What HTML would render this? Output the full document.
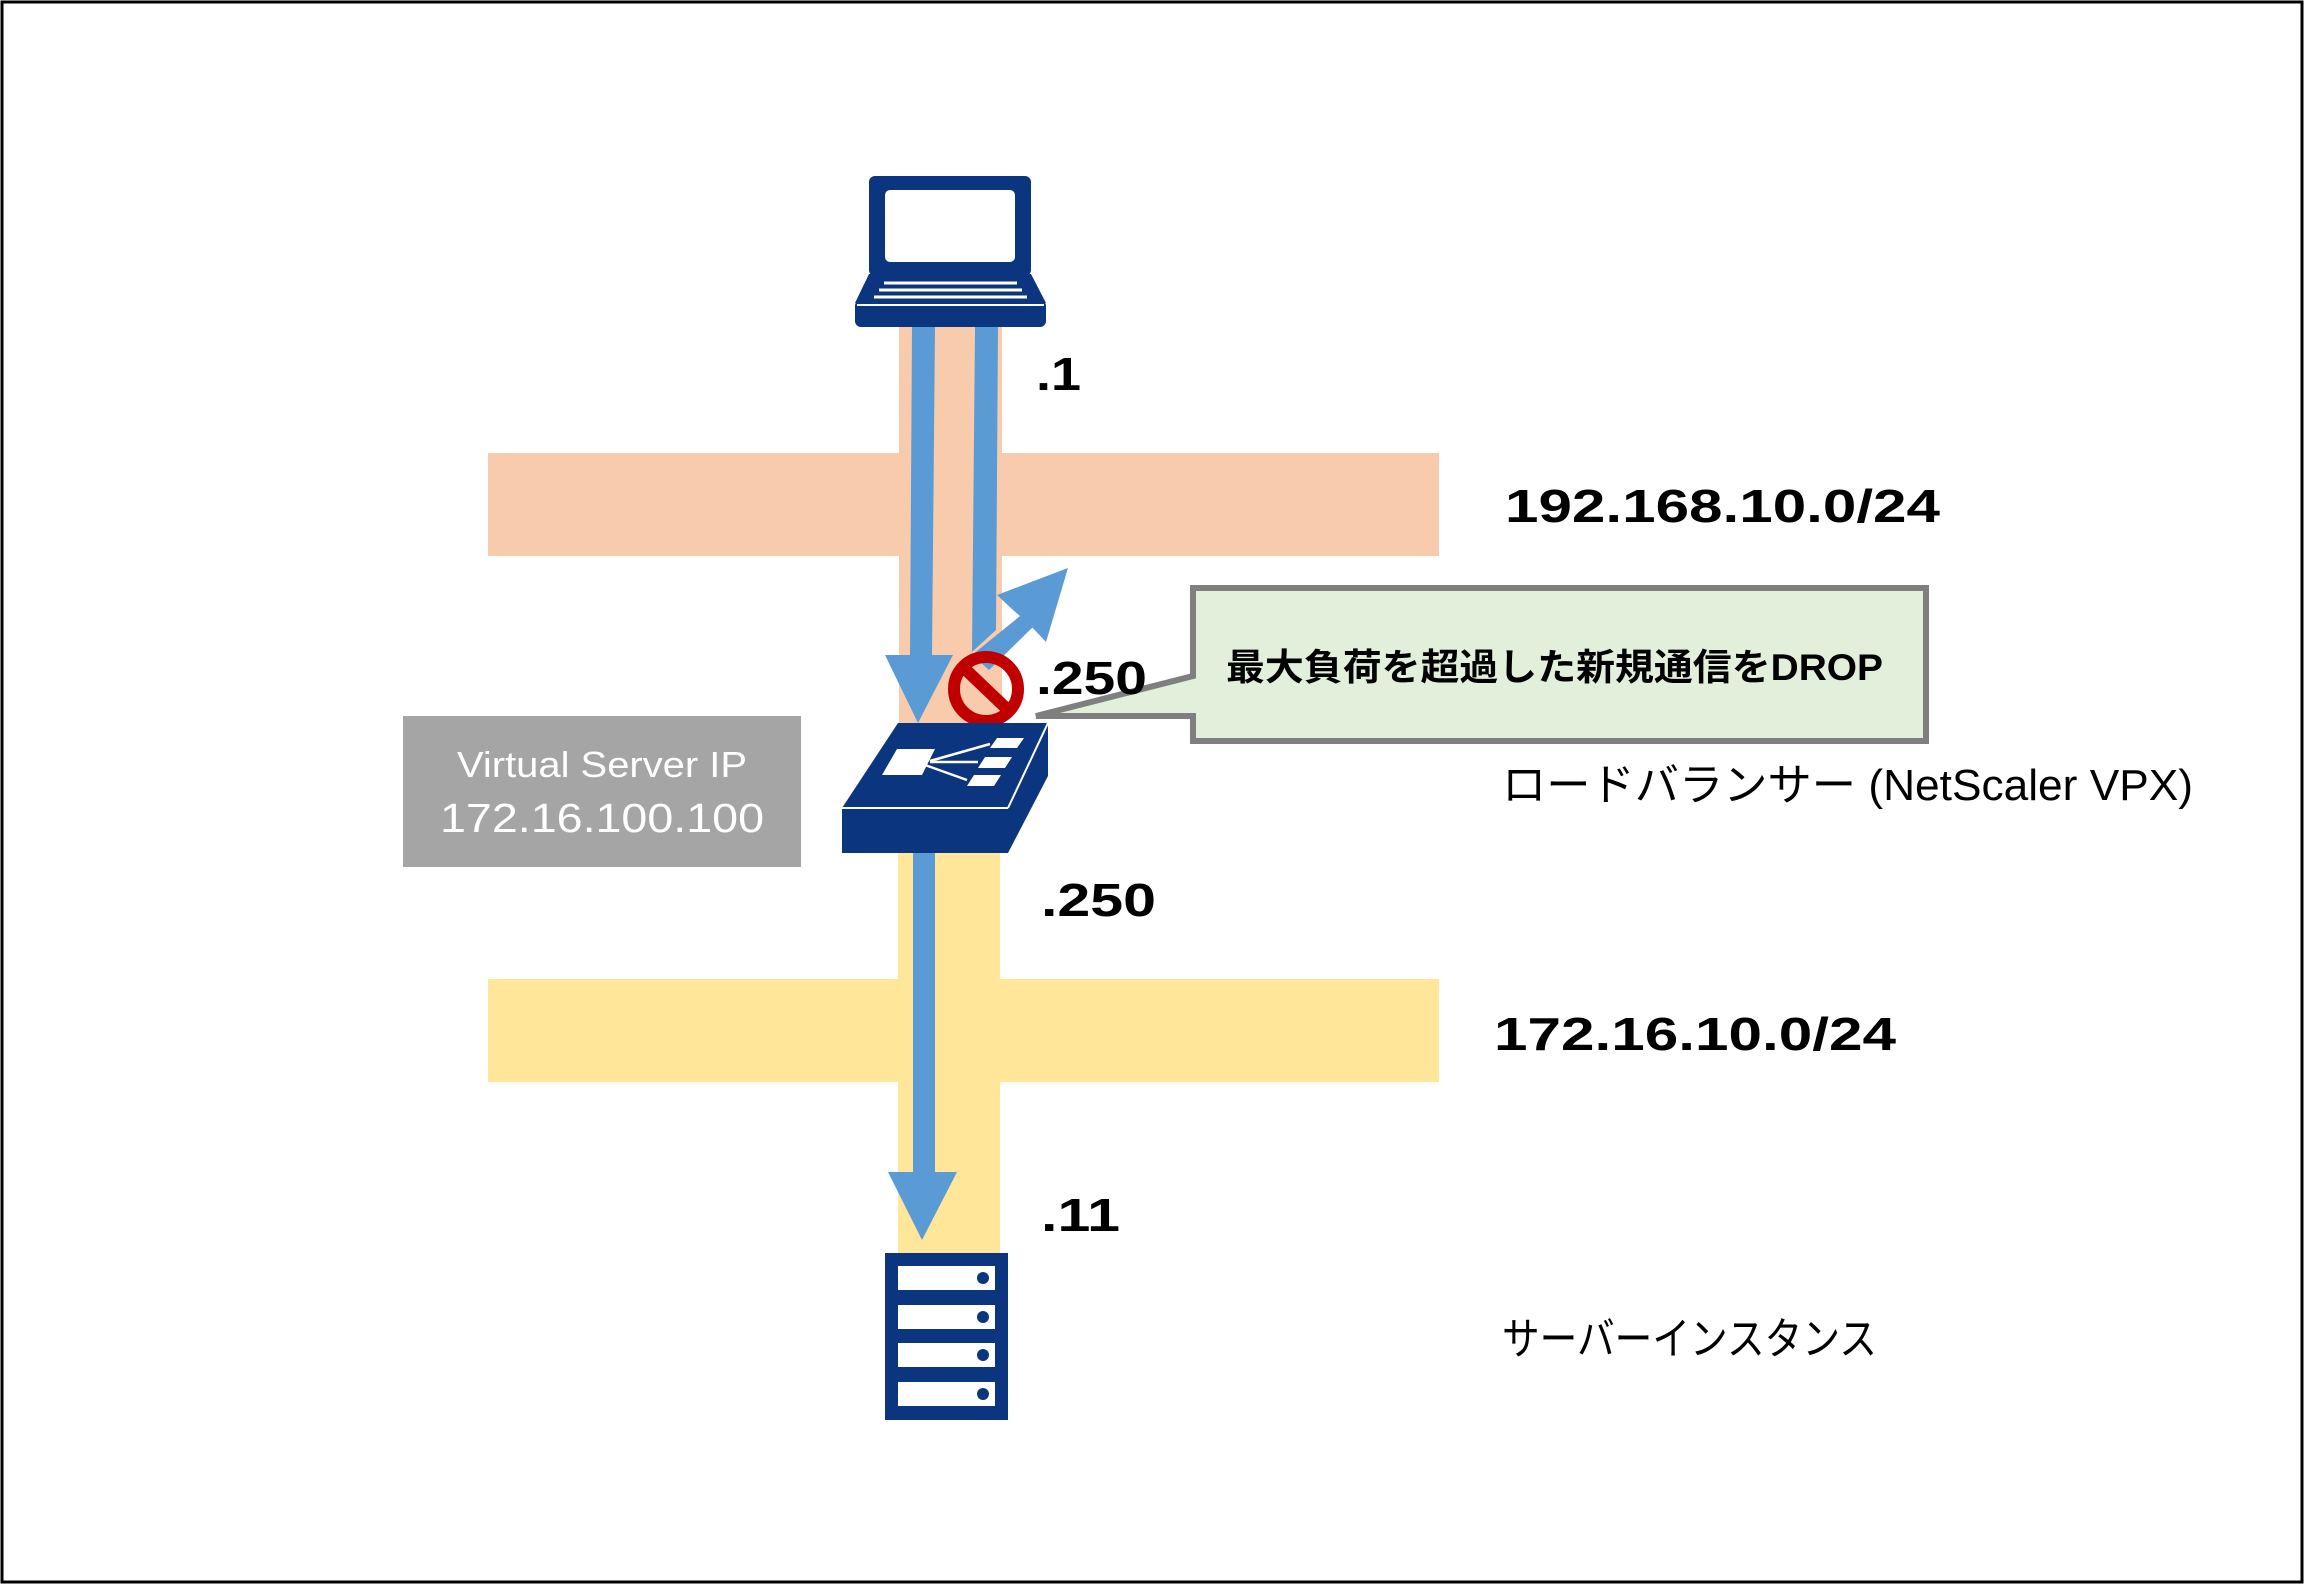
<!DOCTYPE html>
<html><head><meta charset="utf-8"><style>
html,body{margin:0;padding:0;background:#fff}
svg{display:block}
text{font-family:"Liberation Sans","Noto Sans CJK JP",sans-serif}
</style></head><body>
<svg width="2305" height="1585" viewBox="0 0 2305 1585" xmlns="http://www.w3.org/2000/svg">
<rect x="2" y="2" width="2300" height="1580" fill="#fff" stroke="#000" stroke-width="3"/>
<rect x="488" y="453" width="951" height="103" fill="#f8cbad"/>
<rect x="488" y="979" width="951" height="103" fill="#ffe699"/>
<rect x="899" y="325" width="103" height="400" fill="#f8cbad"/>
<rect x="898" y="852" width="102" height="401" fill="#ffe699"/>
<rect x="869" y="176" width="162" height="100" rx="6" fill="#0b357f"/>
<rect x="885" y="190" width="130" height="72" rx="5" fill="#fff"/>
<polygon points="869,274 1031,274 1046,303 855,303" fill="#0b357f"/>
<rect x="855" y="300" width="191" height="27" rx="6" fill="#0b357f"/>
<line x1="857" y1="305" x2="1044" y2="305" stroke="#fff" stroke-width="2"/>
<line x1="884" y1="283" x2="1017" y2="283" stroke="#fff" stroke-width="3"/>
<line x1="879" y1="290" x2="1022" y2="290" stroke="#fff" stroke-width="3"/>
<line x1="874" y1="297" x2="1027" y2="297" stroke="#fff" stroke-width="3"/>
<polygon points="912,327 935,327 932,655 910,655" fill="#5b9bd5"/>
<polygon points="885,655 953,655 918,723" fill="#5b9bd5"/>
<polygon points="975,327 998,327 996,630 972,652" fill="#5b9bd5"/>
<polygon points="972,655 989,670 1035,625 1025,612" fill="#5b9bd5"/>
<polygon points="997,595 1068,568 1046,642 1030,625 1012,609" fill="#5b9bd5"/>
<polygon points="913,853 935,853 935,1172 913,1172" fill="#5b9bd5"/>
<polygon points="888,1172 957,1172 922,1240" fill="#5b9bd5"/>
<circle cx="986" cy="689" r="32" fill="none" stroke="#c00000" stroke-width="12"/>
<line x1="964" y1="668" x2="1008" y2="710" stroke="#c00000" stroke-width="12"/>
<polygon points="898,723 1048,723 1008,808 842,808" fill="#0b357f"/>
<rect x="842" y="808" width="166" height="45" fill="#0b357f"/>
<polygon points="1008,808 1048,723 1048,776 1008,853" fill="#0b357f"/>
<line x1="842" y1="808" x2="1008" y2="808" stroke="#fff" stroke-width="2"/>
<line x1="1008" y1="808" x2="1048" y2="723" stroke="#fff" stroke-width="2"/>
<polygon points="897,749 935,749 922,775 882,775" fill="#fff"/>
<polygon points="997,738 1024,738 1017,748 990,748" fill="#fff"/>
<polygon points="985,757 1012,757 1005,768 978,768" fill="#fff"/>
<polygon points="974,775 1001,775 994,786 967,786" fill="#fff"/>
<g stroke="#fff" stroke-width="2.5"><line x1="930" y1="761" x2="990" y2="744"/><line x1="930" y1="762" x2="978" y2="762"/><line x1="925" y1="765" x2="967" y2="780"/></g>
<rect x="885" y="1253" width="123" height="167" fill="#0b357f"/>
<g fill="#fff"><rect x="898" y="1266" width="97" height="24"/><rect x="898" y="1305" width="97" height="24"/><rect x="898" y="1343" width="97" height="24"/><rect x="898" y="1382" width="97" height="24"/></g>
<g fill="#0b357f"><circle cx="983" cy="1278" r="6"/><circle cx="983" cy="1317" r="6"/><circle cx="983" cy="1355" r="6"/><circle cx="983" cy="1394" r="6"/></g>
<rect x="403" y="716" width="398" height="151" fill="#a5a5a5"/>
<text x="457" y="777" font-size="36" fill="#fff" textLength="290" lengthAdjust="spacingAndGlyphs">Virtual Server IP</text>
<text x="440" y="832" font-size="41" fill="#fff" textLength="324" lengthAdjust="spacingAndGlyphs">172.16.100.100</text>
<polygon points="1193,588 1926,588 1926,741 1193,741 1193,716 1036,716 1193,676" fill="#e2efda" stroke="#7f7f7f" stroke-width="6" stroke-linejoin="miter"/>
<text x="1226" y="680" font-size="37" font-weight="bold" fill="#000" textLength="657" lengthAdjust="spacingAndGlyphs">最大負荷を超過した新規通信をDROP</text>
<g font-weight="bold" fill="#000" font-size="46">
<text x="1036" y="390" textLength="45" lengthAdjust="spacingAndGlyphs">.1</text>
<text x="1036" y="694" textLength="111" lengthAdjust="spacingAndGlyphs">.250</text>
<text x="1041" y="916" textLength="115" lengthAdjust="spacingAndGlyphs">.250</text>
<text x="1041" y="1231" textLength="79" lengthAdjust="spacingAndGlyphs">.11</text>
<text x="1505" y="522" textLength="435" lengthAdjust="spacingAndGlyphs">192.168.10.0/24</text>
<text x="1494" y="1050" textLength="402" lengthAdjust="spacingAndGlyphs">172.16.10.0/24</text>
</g>
<text x="1502" y="800" font-size="44" fill="#000" textLength="691" lengthAdjust="spacingAndGlyphs">ロードバランサー (NetScaler VPX)</text>
<text x="1502" y="1354" font-size="44" fill="#000" textLength="375" lengthAdjust="spacingAndGlyphs">サーバーインスタンス</text>
</svg>
</body></html>
